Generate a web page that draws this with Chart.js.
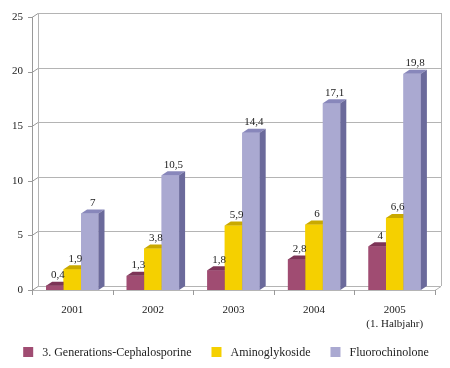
<!DOCTYPE html>
<html>
<head>
<meta charset="utf-8">
<script src="https://cdn.jsdelivr.net/npm/chart.js@4.4.1/dist/chart.umd.min.js"></script>
<style>
  html, body { margin: 0; padding: 0; background: #fff; }
  #wrap { width: 450px; height: 368px; position: relative; }
</style>
</head>
<body>
<div id="wrap"><canvas id="chart" width="450" height="368"></canvas></div>
<script>
// data
const categories = ['2001', '2002', '2003', '2004', ['2005', '(1. Halbjahr)']];
const seriesNames = ['3. Generations-Cephalosporine', 'Aminoglykoside', 'Fluorochinolone'];
const cephalosporine = [0.4, 1.3, 1.8, 2.8, 4];
const aminoglykoside = [1.9, 3.8, 5.9, 6, 6.6];
const fluorochinolone = [7, 10.5, 14.4, 17.1, 19.8];
const yMin = 0, yMax = 25, yStep = 5;

// front / top / side colours for each series
const faceColors = ['#a04c72', '#f5d000', '#aaa9d1'];
const topColors = ['#7d3457', '#c9a900', '#8887bb'];
const sideColors = ['#763050', '#b89a00', '#6b6a9b'];

const DX = 6, DY = -4; // 3d depth
const FONT = '"Liberation Serif", "Times New Roman", serif';

const fmt = v => String(v).replace('.', ',');

// back wall, floor and axis lines
const wallPlugin = {
  id: 'wall',
  beforeDatasetsDraw(chart) {
    const { ctx, chartArea: a, scales: { x, y } } = chart;
    ctx.save();
    ctx.lineWidth = 1;
    // gridlines on the back wall
    ctx.strokeStyle = '#b4b4b4';
    for (let v = yMin; v <= yMax; v += yStep) {
      const yf = Math.round(y.getPixelForValue(v)) + 0.5;
      ctx.beginPath();
      ctx.moveTo(a.left + DX, yf + DY);
      ctx.lineTo(a.right + DX, yf + DY);
      ctx.stroke();
    }
    // wall edges
    ctx.beginPath();
    ctx.moveTo(a.left + DX + 0.5, a.top + DY);
    ctx.lineTo(a.left + DX + 0.5, a.bottom + DY);
    ctx.moveTo(a.right + DX + 0.5, a.top + DY);
    ctx.lineTo(a.right + DX + 0.5, a.bottom + DY);
    ctx.stroke();
    // floor
    ctx.beginPath();
    ctx.moveTo(a.left, a.bottom + 0.5);
    ctx.lineTo(a.right, a.bottom + 0.5);
    ctx.lineTo(a.right + DX, a.bottom + DY + 0.5);
    ctx.stroke();
    // front y axis + ticks
    ctx.strokeStyle = '#999';
    ctx.beginPath();
    ctx.moveTo(a.left + 0.5, a.top);
    ctx.lineTo(a.left + 0.5, a.bottom);
    for (let v = yMin; v <= yMax; v += yStep) {
      const yf = Math.round(y.getPixelForValue(v)) + 0.5;
      ctx.moveTo(a.left - 4, yf);
      ctx.lineTo(a.left, yf);
      ctx.lineTo(a.left + DX, yf + DY);
    }
    // x ticks at category borders
    for (let i = 0; i <= categories.length; i++) {
      const xb = Math.round(x.getPixelForValue(i - 0.5)) + 0.5;
      ctx.moveTo(xb, a.bottom);
      ctx.lineTo(xb, a.bottom + 5);
    }
    ctx.stroke();
    ctx.restore();
  }
};

// bars as blocks, value labels and legend
const blockPlugin = {
  id: 'blocks',
  afterDatasetsDraw(chart) {
    const { ctx } = chart;
    ctx.save();
    for (let i = 0; i < categories.length; i++) {
      chart.data.datasets.forEach((ds, d) => {
        const bar = chart.getDatasetMeta(d).data[i];
        const l = bar.x - bar.width / 2, r = bar.x + bar.width / 2;
        const t = bar.y, b = bar.base;
        ctx.fillStyle = faceColors[d];
        ctx.fillRect(l, t, r - l, b - t);
        ctx.fillStyle = topColors[d];
        ctx.beginPath();
        ctx.moveTo(l, t); ctx.lineTo(r, t);
        ctx.lineTo(r + DX, t + DY); ctx.lineTo(l + DX, t + DY);
        ctx.closePath(); ctx.fill();
        ctx.fillStyle = sideColors[d];
        ctx.beginPath();
        ctx.moveTo(r, t); ctx.lineTo(r + DX, t + DY);
        ctx.lineTo(r + DX, b + DY); ctx.lineTo(r, b);
        ctx.closePath(); ctx.fill();
      });
    }
    // value labels
    ctx.font = '11px ' + FONT;
    ctx.fillStyle = '#222';
    ctx.textAlign = 'center';
    ctx.textBaseline = 'bottom';
    chart.data.datasets.forEach((ds, d) => {
      chart.getDatasetMeta(d).data.forEach((bar, i) => {
        ctx.fillText(fmt(ds.data[i]), bar.x + DX / 2, bar.y + DY - 1);
      });
    });
    // legend
    ctx.font = '12px ' + FONT;
    ctx.textAlign = 'left';
    ctx.textBaseline = 'middle';
    const widths = seriesNames.map(n => 19 + ctx.measureText(n).width);
    const total = widths.reduce((s, w) => s + w, 0) + 20 * (seriesNames.length - 1);
    let lx = 226 - total / 2;
    const ly = 352;
    seriesNames.forEach((n, d) => {
      ctx.fillStyle = faceColors[d];
      ctx.fillRect(lx, ly - 5, 10, 10);
      ctx.fillStyle = '#222';
      ctx.fillText(n, lx + 19, ly + 1);
      lx += widths[d] + 20;
    });
    ctx.restore();
  }
};

new Chart(document.getElementById('chart'), {
  type: 'bar',
  data: {
    labels: categories,
    datasets: [
      { label: seriesNames[0], data: cephalosporine, backgroundColor: faceColors[0] },
      { label: seriesNames[1], data: aminoglykoside, backgroundColor: faceColors[1] },
      { label: seriesNames[2], data: fluorochinolone, backgroundColor: faceColors[2] }
    ]
  },
  options: {
    responsive: false,
    animation: false,
    layout: { padding: { top: 17, right: 15, bottom: 0, left: 0 } },
    datasets: { bar: { barPercentage: 1, categoryPercentage: 0.65 } },
    plugins: { legend: { display: false }, tooltip: { enabled: false } },
    scales: {
      x: {
        grid: { display: false, drawTicks: false },
        border: { display: false },
        ticks: { color: '#222', font: { family: FONT, size: 11 }, padding: 14, maxRotation: 0 },
        afterFit(scale) { scale.height = 78; }
      },
      y: {
        min: yMin, max: yMax,
        grid: { display: false, drawTicks: false },
        border: { display: false },
        ticks: { stepSize: yStep, color: '#222', font: { family: FONT, size: 11 }, padding: 9 },
        afterFit(scale) { scale.width = 32; }
      }
    }
  },
  plugins: [wallPlugin, blockPlugin]
});
</script>
</body>
</html>
